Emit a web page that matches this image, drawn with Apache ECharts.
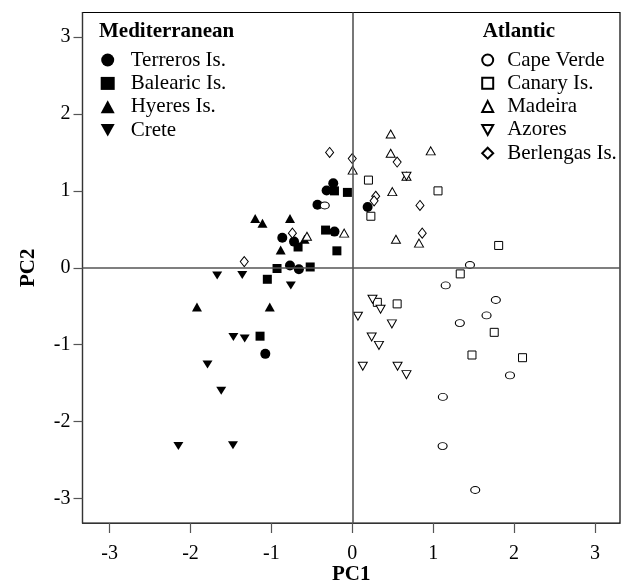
<!DOCTYPE html>
<html>
<head>
<meta charset="utf-8">
<script src="https://cdn.jsdelivr.net/npm/echarts@6/dist/echarts.min.js"></script>
<style>
  html, body { margin: 0; padding: 0; background: #fff; }
  #chart { width: 621px; height: 582px; }
</style>
</head>
<body>
<div id="chart"></div>
<script>
// PCA scores, [PC1, PC2] per individual
const terreros = [[-0.235, 1.10], [-0.317, 1.005], [-0.43, 0.82], [-0.22, 0.47], [-0.865, 0.39], [-0.72, 0.34], [-0.77, 0.03], [-0.66, -0.02], [-1.075, -1.12], [0.19, 0.79]];
const balearic = [[-0.22, 1.0], [-0.06, 0.98], [-0.33, 0.49], [-0.19, 0.22], [-0.67, 0.27], [-0.93, -0.01], [-0.52, 0.01], [-1.05, -0.15], [-1.14, -0.89]];
const hyeres = [[-1.2, 0.64], [-1.11, 0.58], [-0.77, 0.64], [-0.59, 0.37], [-0.885, 0.23], [-1.92, -0.51], [-1.02, -0.51]];
const crete = [[-1.67, -0.10], [-1.36, -0.095], [-0.76, -0.23], [-1.47, -0.90], [-1.33, -0.92], [-1.79, -1.26], [-1.62, -1.6], [-2.15, -2.32], [-1.475, -2.31]];
const capeVerde = [[-0.34, 0.81], [1.455, 0.035], [1.155, -0.23], [1.775, -0.42], [1.66, -0.62], [1.33, -0.72], [1.95, -1.40], [1.12, -1.68], [1.117, -2.32], [1.52, -2.89]];
const canary = [[0.2, 1.14], [1.06, 1.0], [0.23, 0.67], [1.81, 0.29], [1.335, -0.08], [0.31, -0.45], [0.555, -0.47], [1.755, -0.84], [1.48, -1.135], [2.105, -1.17]];
const madeira = [[0.475, 1.74], [0.475, 1.49], [0.97, 1.52], [0.005, 1.27], [0.67, 1.19], [0.495, 0.99], [-0.1, 0.45], [0.54, 0.37], [0.825, 0.32], [-0.56, 0.41]];
const azores = [[0.67, 1.19], [0.25, -0.41], [0.35, -0.54], [0.07, -0.63], [0.49, -0.73], [0.24, -0.90], [0.33, -1.01], [0.13, -1.28], [0.56, -1.28], [0.67, -1.39]];
const berlengas = [[-0.28, 1.50], [0.0, 1.42], [0.555, 1.375], [0.29, 0.93], [0.27, 0.87], [0.837, 0.81], [0.865, 0.45], [-0.74, 0.45], [-1.335, 0.08]];

const axisTicks = [-3, -2, -1, 0, 1, 2, 3];

const FONT = '"Liberation Serif", "Times New Roman", serif';
const ELLIPSE = 'path://M0,5A5,5,0,1,1,10,5A5,5,0,1,1,0,5Z';
const DOWN_TRI = 'path://M0,0L10,0L5,9Z';

function filled(name, data, symbol, size) {
  return {
    type: 'scatter', name: name, data: data, symbol: symbol, symbolSize: size, z: 3,
    itemStyle: { color: '#000', opacity: 1 },
    emphasis: { disabled: true }
  };
}
function open(name, data, symbol, size) {
  return {
    type: 'scatter', name: name, data: data, symbol: symbol, symbolSize: size, z: 4,
    itemStyle: { color: '#fff', borderColor: '#000', borderWidth: 1, opacity: 1 },
    emphasis: { disabled: true }
  };
}

const chart = echarts.init(document.getElementById('chart'), null, { renderer: 'canvas' });

const labelStyle = { fontFamily: FONT, fontSize: 20, color: '#000' };
const nameStyle = { fontFamily: FONT, fontSize: 21, fontWeight: 'bold', color: '#000' };
const legendText = { fontFamily: FONT, fontSize: 21, color: '#000', lineHeight: 21 };

chart.setOption({
  animation: false,
  backgroundColor: '#fff',
  title: [
    { text: 'Mediterranean', left: 99, top: 21, padding: 0,
      textStyle: { fontFamily: FONT, fontSize: 21, fontWeight: 'bold', color: '#000' } },
    { text: 'Atlantic', left: 482.7, top: 21, padding: 0,
      textStyle: { fontFamily: FONT, fontSize: 21, fontWeight: 'bold', color: '#000' } }
  ],
  legend: [
    {
      orient: 'vertical', left: 100.7, top: 49.5, padding: 0,
      itemWidth: 14, itemHeight: 13, itemGap: 2.4, selectedMode: false,
      data: [
        { name: 'Terreros Is.', icon: 'circle' },
        { name: 'Balearic Is.', icon: 'rect' },
        { name: 'Hyeres Is.', icon: 'triangle' },
        { name: 'Crete', icon: DOWN_TRI }
      ],
      textStyle: Object.assign({ padding: [0, 0, 0, 11] }, legendText)
    },
    {
      orient: 'vertical', left: 481.2, top: 49.5, padding: 0,
      itemWidth: 11, itemHeight: 11, itemGap: 2.3, selectedMode: false,
      data: [
        { name: 'Cape Verde', icon: 'circle' },
        { name: 'Canary Is.', icon: 'rect' },
        { name: 'Madeira', icon: 'triangle' },
        { name: 'Azores', icon: DOWN_TRI },
        { name: 'Berlengas Is.', icon: 'diamond' }
      ],
      textStyle: Object.assign({ padding: [0, 0, 0, 9] }, legendText)
    }
  ],
  grid: {
    left: 82.5, right: 1, top: 12.5, bottom: 59,
    outerBoundsMode: 'none', containLabel: false,
    show: true, borderColor: '#000', borderWidth: 1.2, backgroundColor: 'transparent'
  },
  xAxis: {
    type: 'value', min: -3.335, max: 3.31, interval: 1,
    name: 'PC1', nameLocation: 'middle', nameGap: 41.5, nameMoveOverlap: false, nameTextStyle: nameStyle,
    axisLine: { show: true, onZero: false, lineStyle: { color: '#333', width: 1.2 } },
    axisTick: { show: true, inside: false, length: 10, lineStyle: { color: '#555', width: 1.2 },
      customValues: axisTicks },
    axisLabel: Object.assign({ margin: 21, customValues: axisTicks }, labelStyle),
    splitLine: { show: false }
  },
  yAxis: {
    type: 'value', min: -3.32, max: 3.32, interval: 1,
    name: 'PC2', nameLocation: 'middle', nameGap: 43, nameRotate: 90, nameMoveOverlap: false, nameTextStyle: nameStyle,
    axisLine: { show: true, onZero: false, lineStyle: { color: '#333', width: 1.2 } },
    axisTick: { show: true, inside: false, length: 9, lineStyle: { color: '#555', width: 1.2 },
      customValues: axisTicks },
    axisLabel: Object.assign({ margin: 12, customValues: axisTicks }, labelStyle),
    splitLine: { show: false }
  },
  series: [
    {
      type: 'scatter', name: 'origin lines', data: [], z: 1, silent: true,
      markLine: {
        silent: true, symbol: 'none', animation: false,
        label: { show: false },
        lineStyle: { color: '#555', width: 1.6, type: 'solid' },
        emphasis: { disabled: true },
        data: [{ xAxis: 0 }, { yAxis: 0 }]
      }
    },
    filled('Terreros Is.', terreros, 'circle', 10),
    filled('Balearic Is.', balearic, 'rect', 9),
    filled('Hyeres Is.', hyeres, 'triangle', [10, 9]),
    filled('Crete', crete, DOWN_TRI, [10, 8]),
    open('Cape Verde', capeVerde, ELLIPSE, [9, 7]),
    open('Canary Is.', canary, 'rect', 8),
    open('Madeira', madeira, 'triangle', [9, 8]),
    open('Azores', azores, DOWN_TRI, [9, 8]),
    open('Berlengas Is.', berlengas, 'diamond', [8, 10])
  ]
});
</script>
</body>
</html>
